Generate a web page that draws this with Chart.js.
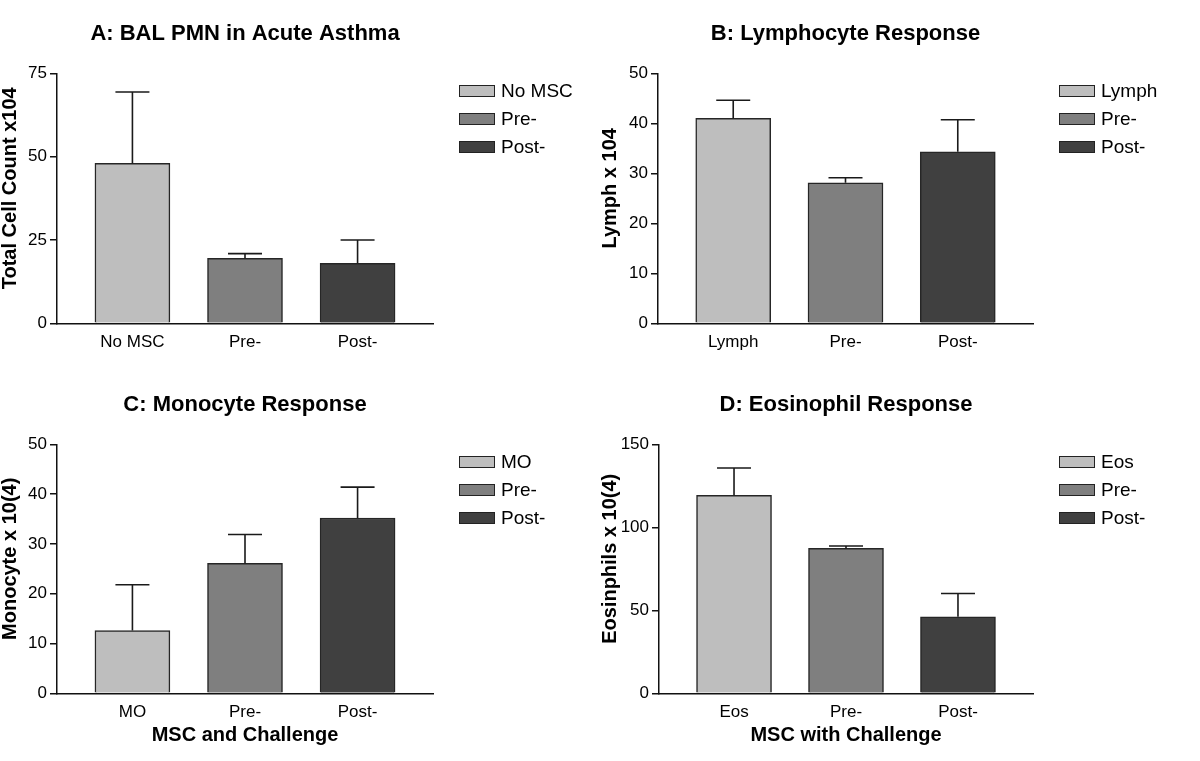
<!DOCTYPE html>
<html><head><meta charset="utf-8">
<script src="https://cdn.jsdelivr.net/npm/chart.js@4.4.1/dist/chart.umd.min.js"></script>
<style>
html,body{margin:0;padding:0;background:#fff;overflow:hidden;width:1200px;height:761px;}
.panel{position:absolute;}
.legend{position:absolute;font-family:"Liberation Sans",Arial,sans-serif;font-size:19px;color:#000;}
.legend .row{display:flex;align-items:center;height:28.3px;white-space:nowrap;}
.legend .sw{width:34px;height:10px;border:1px solid #222;margin-right:6px;}
</style></head><body>
<div class="panel" id="pA" style="left:0;top:0;width:600px;height:371px"><canvas id="cA"></canvas></div>
<div class="panel" id="pB" style="left:600px;top:0;width:600px;height:371px"><canvas id="cB"></canvas></div>
<div class="panel" id="pC" style="left:0;top:371px;width:600px;height:390px"><canvas id="cC"></canvas></div>
<div class="panel" id="pD" style="left:600px;top:371px;width:600px;height:390px"><canvas id="cD"></canvas></div>
<script>
// ---- data ----
const barColors = ['#bebebe', '#7f7f7f', '#404040'];

const aCategories = ['No MSC', 'Pre-', 'Post-'];
const aMeans = [48.0, 19.5, 18.0];
const aErrors = [21.4, 1.4, 7.0];
const aTicks = [0, 25, 50, 75];

const bCategories = ['Lymph', 'Pre-', 'Post-'];
const bMeans = [41.0, 28.1, 34.3];
const bErrors = [3.6, 1.0, 6.4];
const bTicks = [0, 10, 20, 30, 40, 50];

const cCategories = ['MO', 'Pre-', 'Post-'];
const cMeans = [12.6, 26.1, 35.2];
const cErrors = [9.2, 5.8, 6.2];
const cTicks = [0, 10, 20, 30, 40, 50];

const dCategories = ['Eos', 'Pre-', 'Post-'];
const dMeans = [119.2, 87.3, 46.1];
const dErrors = [16.5, 1.4, 14.0];
const dTicks = [0, 50, 100, 150];

const FONT = '"Liberation Sans", Arial, Helvetica, sans-serif';

const errorBarPlugin = {
  id: 'errorBars',
  afterDatasetsDraw(chart, args, opts) {
    const meta = chart.getDatasetMeta(0);
    const ys = chart.scales.y;
    const vals = chart.data.datasets[0].data;
    const ctx = chart.ctx;
    ctx.save();
    ctx.strokeStyle = '#1a1a1a';
    ctx.lineWidth = 1.6;
    meta.data.forEach((bar, i) => {
      const top = ys.getPixelForValue(vals[i].y + opts.errors[i]);
      ctx.beginPath();
      ctx.moveTo(bar.x, bar.y);
      ctx.lineTo(bar.x, top);
      ctx.moveTo(bar.x - 17, top);
      ctx.lineTo(bar.x + 17, top);
      ctx.stroke();
    });
    ctx.restore();
  }
};

// vertical axis title, drawn beside the y scale, slightly above its centre as in the reference
const yTitlePlugin = {
  id: 'yTitle',
  afterDraw(chart, args, opts) {
    const ys = chart.scales.y;
    const ctx = chart.ctx;
    ctx.save();
    ctx.translate(ys.left + 10, (ys.top + ys.bottom) / 2 - 10);
    ctx.rotate(-Math.PI / 2);
    ctx.font = 'bold 20px ' + FONT;
    ctx.fillStyle = '#000';
    ctx.textAlign = 'center';
    ctx.textBaseline = 'middle';
    ctx.fillText(opts.text, 0, 0);
    ctx.restore();
  }
};

function makePanel(canvasId, panelId, cats, means, errs, ticks, title, yTitle, xTitle, yWidth, xHeight, padBottom) {
  const data = means.map((v, i) => ({ x: i, y: v }));
  const chart = new Chart(document.getElementById(canvasId), {
    type: 'bar',
    data: {
      datasets: [{
        label: yTitle,
        data: data,
        backgroundColor: barColors,
        borderColor: '#262626',
        borderWidth: 1.5,
        barThickness: 75
      }]
    },
    plugins: [errorBarPlugin, yTitlePlugin],
    options: {
      responsive: true,
      maintainAspectRatio: false,
      animation: false,
      layout: { padding: { left: 0, top: 0, right: 167, bottom: padBottom } },
      plugins: {
        legend: { display: false },
        tooltip: { enabled: false },
        errorBars: { errors: errs },
        yTitle: { text: yTitle },
        title: {
          display: true,
          text: title,
          fullSize: false,
          color: '#000',
          font: { family: FONT, size: 22, weight: 'bold', lineHeight: 1.2 },
          padding: { top: 20.8, bottom: 26.1 }
        }
      },
      scales: {
        x: {
          type: 'linear',
          bounds: 'data',
          offset: false,
          min: -0.67,
          max: 2.67,
          grid: { display: false, drawTicks: false },
          border: { display: true, color: '#111', width: 1.5 },
          afterBuildTicks: s => { s.ticks = cats.map((c, i) => ({ value: i })); },
          afterFit: s => { s.height = xHeight; },
          ticks: {
            color: '#000',
            padding: 9,
            autoSkip: false,
            maxRotation: 0,
            font: { family: FONT, size: 17 },
            callback: v => cats[v]
          },
          title: {
            display: !!xTitle,
            text: xTitle || '',
            color: '#000',
            font: { family: FONT, size: 20, weight: 'bold', lineHeight: 1 },
            padding: { top: 0, bottom: 0 }
          }
        },
        y: {
          min: ticks[0],
          max: ticks[ticks.length - 1],
          afterBuildTicks: s => { s.ticks = ticks.map(v => ({ value: v })); },
          afterFit: s => { s.width = yWidth; },
          grid: { drawOnChartArea: false, drawTicks: true, tickLength: 7, color: '#111', lineWidth: 1.5 },
          border: { display: true, color: '#111', width: 1.5 },
          ticks: {
            color: '#000',
            padding: 3,
            font: { family: FONT, size: 17 }
          },
          title: { display: false }
        }
      }
    }
  });

  // HTML legend built from the chart's own data
  const panel = document.getElementById(panelId);
  const ca = chart.chartArea;
  const lg = document.createElement('div');
  lg.className = 'legend';
  lg.style.left = (ca.right + 26) + 'px';
  lg.style.top = (ca.top + 17.4 - 14.15) + 'px';
  cats.forEach((c, i) => {
    const row = document.createElement('div');
    row.className = 'row';
    const sw = document.createElement('span');
    sw.className = 'sw';
    sw.style.background = chart.data.datasets[0].backgroundColor[i];
    const tx = document.createElement('span');
    tx.textContent = c;
    row.appendChild(sw);
    row.appendChild(tx);
    lg.appendChild(row);
  });
  panel.appendChild(lg);
  return chart;
}

makePanel('cA', 'pA', aCategories, aMeans, aErrors, aTicks, 'A: BAL PMN in Acute Asthma', 'Total Cell Count x104', null, 57, 40, 7.7);
makePanel('cB', 'pB', bCategories, bMeans, bErrors, bTicks, 'B: Lymphocyte Response', 'Lymph x 104', null, 58, 40, 7.7);
makePanel('cC', 'pC', cCategories, cMeans, cErrors, cTicks, 'C: Monocyte Response', 'Monocyte x 10(4)', 'MSC and Challenge', 57, 52, 15.7);
makePanel('cD', 'pD', dCategories, dMeans, dErrors, dTicks, 'D: Eosinophil Response', 'Eosinphils x 10(4)', 'MSC with Challenge', 59, 52, 15.7);
</script>
</body></html>
